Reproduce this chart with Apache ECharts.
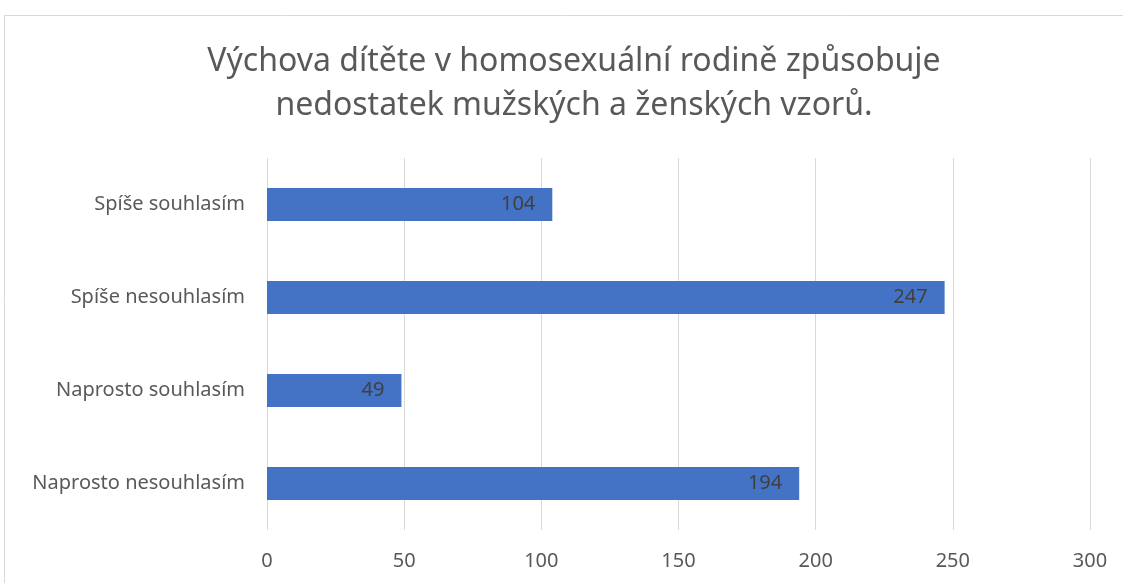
<!DOCTYPE html>
<html>
<head>
<meta charset="utf-8">
<script src="https://cdn.jsdelivr.net/npm/echarts@6/dist/echarts.min.js"></script>
<style>
  html, body { margin: 0; padding: 0; background: #fff; }
  #chart { width: 1123px; height: 583px; }
</style>
</head>
<body>
<div id="chart"></div>
<script>
// bottom to top, as the category axis draws them
let categories = ["Naprosto nesouhlasím", "Naprosto souhlasím", "Spíše nesouhlasím", "Spíše souhlasím"]
let values = [194, 49, 247, 104]
let titleText = "Výchova dítěte v homosexuální rodině způsobuje\nnedostatek mužských a ženských vzorů."

let font = "Noto Sans"

let myChart = echarts.init(document.getElementById("chart"))
let option = {
  animation: false,
  textStyle: { fontFamily: font },
  // chart area border
  graphic: [
    {
      type: "rect",
      shape: { x: 4.5, y: 15.5, width: 1130, height: 600 },
      style: { fill: "none", stroke: "#d9d9d9", lineWidth: 1 }
    }
  ],
  title: {
    text: titleText,
    // with textAlign center, left is the centre of the title
    left: 569,
    textAlign: "center",
    top: 35,
    textStyle: {
      fontFamily: font,
      fontSize: 32,
      fontWeight: "normal",
      color: "#595959",
      lineHeight: 44
    }
  },
  grid: {
    left: 267,
    right: 33,
    top: 158,
    bottom: 53,
    containLabel: false
  },
  xAxis: {
    type: "value",
    min: 0,
    max: 300,
    interval: 50,
    axisLine: { show: false },
    axisTick: { show: false },
    splitLine: { lineStyle: { color: "#d9d9d9", width: 1 } },
    axisLabel: { color: "#595959", fontSize: 20, margin: 21 }
  },
  yAxis: {
    type: "category",
    data: categories,
    axisLine: { show: false },
    axisTick: { show: false },
    axisLabel: { color: "#595959", fontSize: 20, margin: 22 }
  },
  series: [
    {
      type: "bar",
      data: values,
      barWidth: 33,
      itemStyle: { color: "#4472c4" },
      label: {
        show: true,
        position: "insideRight",
        distance: 17,
        color: "#404040",
        fontSize: 20
      }
    }
  ]
}
myChart.setOption(option)
</script>
</body>
</html>
